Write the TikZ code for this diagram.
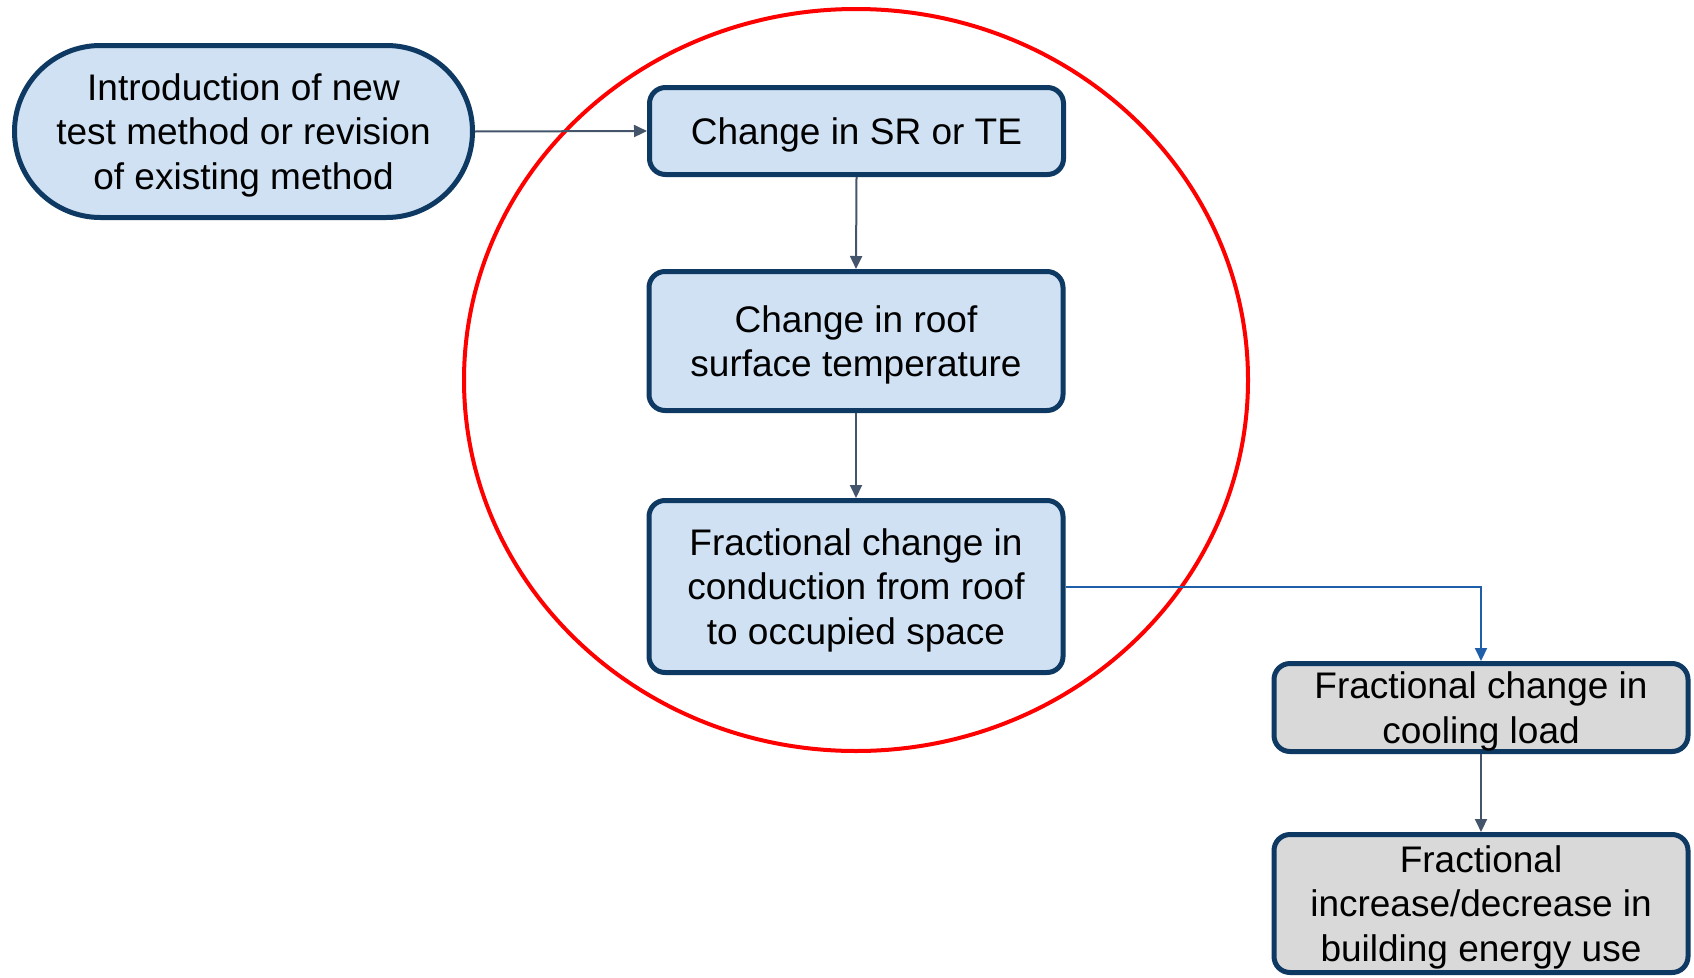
\documentclass[tikz,border=0pt]{standalone}
\usepackage{fontspec}
\setmainfont{Liberation Sans}
\usetikzlibrary{arrows.meta}
\definecolor{navy}{HTML}{0D3963}
\definecolor{boxblue}{HTML}{CFE1F2}
\definecolor{boxgray}{HTML}{D9D9D9}
\definecolor{conn}{HTML}{44546A}
\definecolor{connblue}{HTML}{1F5FAA}
\begin{document}
\begin{tikzpicture}[x=1pt,y=-1pt,
  basebox/.style={draw=navy, line width=5pt, align=center, inner sep=0pt, text depth=0pt,
    font=\fontsize{37}{44.5}\selectfont},
  bluebox/.style={basebox, fill=boxblue, rounded corners=16pt, minimum width=414pt},
  graybox/.style={basebox, fill=boxgray, rounded corners=16pt, minimum width=414pt},
  stadium/.style={basebox, fill=boxblue, rounded corners=86pt, minimum width=458pt, minimum height=172pt},
  conline/.style={draw=conn, line width=2pt, -{Triangle[length=13pt,width=12pt]}},
  blueline/.style={draw=connblue, line width=2pt, -{Triangle[length=13pt,width=12pt]}},
  ring/.style={draw=red, line width=4pt}
]
\useasboundingbox (0,0) rectangle (1694,977);
\draw[ring] (856,380) ellipse [x radius=392, y radius=371];
\node[stadium] (stad) at (243.5,131.5) {Introduction of new\\test method or revision\\of existing method};
\node[bluebox, minimum height=87pt] (b1) at (856.5,131) {Change in SR or TE};
\node[bluebox, minimum height=139pt] (b2) at (856,341) {Change in roof\\surface temperature};
\node[bluebox, minimum height=172pt] (b3) at (856,586.5) {Fractional change in\\conduction from roof\\to occupied space};
\node[graybox, minimum height=88pt] (b4) at (1481,707.5) {Fractional change in\\cooling load};
\node[graybox, minimum height=138pt] (b5) at (1481,903.5) {Fractional\\increase/decrease in\\building energy use};
\draw[conline] (stad.east) -- (b1.west);
\draw[conline] (b1.south) -- (b2.north);
\draw[conline] (b2.south) -- (b3.north);
\draw[blueline] (b3.east) -| (b4.north);
\draw[conline] (b4.south) -- (b5.north);
\end{tikzpicture}
\end{document}
